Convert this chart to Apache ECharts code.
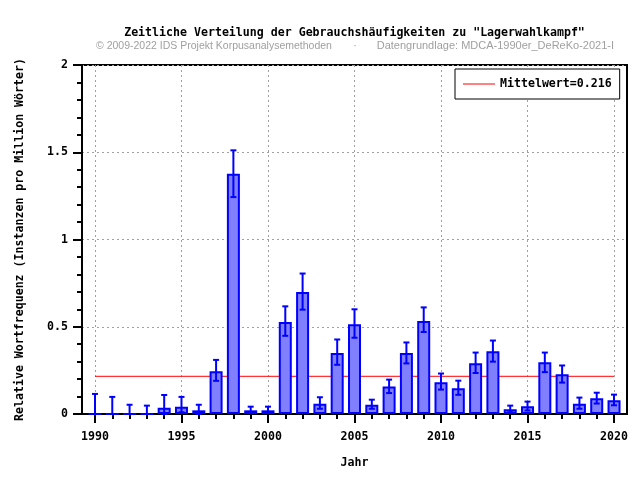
<!DOCTYPE html>
<html><head><meta charset="utf-8">
<script src="https://cdn.jsdelivr.net/npm/echarts@6/dist/echarts.min.js"></script>
<style>html,body{margin:0;padding:0;background:#fff}#c{width:640px;height:480px}</style>
</head><body><div id="c"></div>
<script>
const years = [1990,1991,1992,1993,1994,1995,1996,1997,1998,1999,2000,2001,2002,2003,2004,2005,2006,2007,2008,2009,2010,2011,2012,2013,2014,2015,2016,2017,2018,2019,2020];
const values = [0,0,0,0,0.036,0.042,0.021,0.245,1.377,0.021,0.021,0.527,0.699,0.059,0.349,0.515,0.053,0.157,0.349,0.533,0.182,0.148,0.291,0.360,0.027,0.044,0.297,0.228,0.059,0.090,0.079];
const errHigh = [0.115,0.098,0.053,0.048,0.109,0.098,0.053,0.310,1.511,0.042,0.042,0.617,0.805,0.096,0.427,0.600,0.082,0.197,0.410,0.611,0.232,0.191,0.352,0.421,0.048,0.071,0.352,0.278,0.094,0.122,0.111];
const errLow = [0,0,0,0,0,0.010,0,0.190,1.243,0.005,0.005,0.448,0.598,0.030,0.282,0.437,0.030,0.120,0.290,0.470,0.140,0.110,0.235,0.300,0.010,0.020,0.240,0.180,0.030,0.060,0.050];
const meanValue = 0.216;
const meanLabel = 'Mittelwert=0.216';
const titleText = 'Zeitliche Verteilung der Gebrauchsh\u00e4ufigkeiten zu "Lagerwahlkampf"';
const subLeft = '\u00a9 2009-2022 IDS Projekt Korpusanalysemethoden';
const subDot = '\u00b7';
const subRight = 'Datengrundlage: MDCA-1990er_DeReKo-2021-I';
const xName = 'Jahr';
const yName = 'Relative Wortfrequenz (Instanzen pro Million W\u00f6rter)';

const W = 640, H = 480;
const gL = 82, gR = 627, gT = 65, gB = 414;
const xMin = 1989.25, xMax = 2020.75;
const pxPerYear = (gR - gL) / (xMax - xMin);
const tickL = gL + (years[0] - xMin) * pxPerYear;
const tickR = gR - (xMax - years[years.length - 1]) * pxPerYear;

const mono = 'DejaVu Sans Mono';
const fs = 11.6;

const chart = echarts.init(document.getElementById('c'), null, {renderer: 'canvas'});
const option = {
  animation: false,
  backgroundColor: '#fff',
  graphic: [
    {type: 'text', x: (gL + gR) / 2, y: 33, style: {text: titleText, fontFamily: mono, fontWeight: 'bold', fontSize: fs, fill: '#000', align: 'center', verticalAlign: 'middle'}},
    {type: 'text', x: 96, y: 46, style: {text: subLeft, fontFamily: 'Liberation Sans', fontSize: 10.5, fill: '#a0a0a0', align: 'left', verticalAlign: 'middle'}},
    {type: 'text', x: 355, y: 46, style: {text: subDot, fontFamily: 'Liberation Sans', fontSize: 10.5, fill: '#a0a0a0', align: 'center', verticalAlign: 'middle'}},
    {type: 'text', x: 614, y: 46, style: {text: subRight, fontFamily: 'Liberation Sans', fontSize: 11, fill: '#a0a0a0', align: 'right', verticalAlign: 'middle'}}
  ],
  legend: {
    left: 455, top: 69,
    padding: [9, 8, 9, 8],
    borderColor: '#000', borderWidth: 1,
    backgroundColor: '#fff',
    itemWidth: 32, itemHeight: 1, itemGap: 5,
    textStyle: {fontFamily: mono, fontWeight: 'bold', fontSize: fs, color: '#000'},
    data: [{name: meanLabel, icon: 'rect'}]
  },
  grid: [
    {left: gL, right: W - gR, top: gT, bottom: H - gB, show: true, borderColor: '#000', borderWidth: 2, backgroundColor: 'transparent'},
    {left: tickL, right: W - tickR, top: gT, bottom: H - gB, show: false}
  ],
  xAxis: [
    {type: 'value', gridIndex: 0, min: xMin, max: xMax,
     axisLine: {show: true, onZero: false, lineStyle: {color: '#000', width: 2}},
     axisTick: {show: false}, axisLabel: {show: false}, splitLine: {show: false}},
    {type: 'value', gridIndex: 1, min: years[0], max: years[years.length - 1], interval: 5,
     axisLine: {show: false, onZero: false},
     axisTick: {show: true, length: 9, lineStyle: {color: '#000', width: 2}},
     minorTick: {show: true, splitNumber: 5, length: 5, lineStyle: {color: '#000', width: 2}},
     axisLabel: {show: true, margin: 17, formatter: function (v) { return String(v); }, fontFamily: mono, fontWeight: 'bold', fontSize: fs, color: '#000'},
     splitLine: {show: true, lineStyle: {color: '#a0a0a0', width: 1, type: [2, 3]}},
     name: xName, nameLocation: 'middle', nameGap: 43,
     nameTextStyle: {fontFamily: mono, fontWeight: 'bold', fontSize: fs, color: '#000'}}
  ],
  yAxis: [
    {type: 'value', gridIndex: 0, min: 0, max: 2, interval: 0.5,
     axisLine: {show: true, onZero: false, lineStyle: {color: '#000', width: 2}},
     axisTick: {show: true, length: 9, lineStyle: {color: '#000', width: 2}},
     minorTick: {show: true, splitNumber: 5, length: 5, lineStyle: {color: '#000', width: 2}},
     axisLabel: {show: true, margin: 14, fontFamily: mono, fontWeight: 'bold', fontSize: fs, color: '#000'},
     splitLine: {show: true, lineStyle: {color: '#a0a0a0', width: 1, type: [2, 3]}},
     name: yName, nameLocation: 'middle', nameGap: 56, nameRotate: 90,
     nameTextStyle: {fontFamily: mono, fontWeight: 'bold', fontSize: fs, color: '#000'}},
    {type: 'value', gridIndex: 1, min: 0, max: 2, show: false}
  ],
  series: [
    {type: 'bar', xAxisIndex: 0, yAxisIndex: 0, barWidth: 13,
     data: years.map((y, i) => [y, values[i]]),
     itemStyle: {color: '#8080ff', borderColor: '#0000ff', borderWidth: 2},
     emphasis: {disabled: true}, z: 3},
    {type: 'custom', xAxisIndex: 0, yAxisIndex: 0,
     data: years.map((y, i) => [y, errLow[i], errHigh[i]]),
     renderItem: function (params, api) {
       const pLo = api.coord([api.value(0), api.value(1)]);
       const pHi = api.coord([api.value(0), api.value(2)]);
       const cw = 3;
       const st = {stroke: '#0000ff', lineWidth: 2};
       return {type: 'group', children: [
         {type: 'line', shape: {x1: pLo[0], y1: pLo[1], x2: pHi[0], y2: pHi[1]}, style: st},
         {type: 'line', shape: {x1: pHi[0] - cw, y1: pHi[1], x2: pHi[0] + cw, y2: pHi[1]}, style: st},
         {type: 'line', shape: {x1: pLo[0] - cw, y1: pLo[1], x2: pLo[0] + cw, y2: pLo[1]}, style: st}
       ]};
     }, z: 4},
    {type: 'line', name: meanLabel, xAxisIndex: 0, yAxisIndex: 0,
     data: [[years[0], meanValue], [years[years.length - 1], meanValue]],
     symbol: 'none', showSymbol: false,
     lineStyle: {color: 'red', width: 1}, itemStyle: {color: 'red'}, z: 2}
  ]
};
chart.setOption(option);
</script></body></html>
